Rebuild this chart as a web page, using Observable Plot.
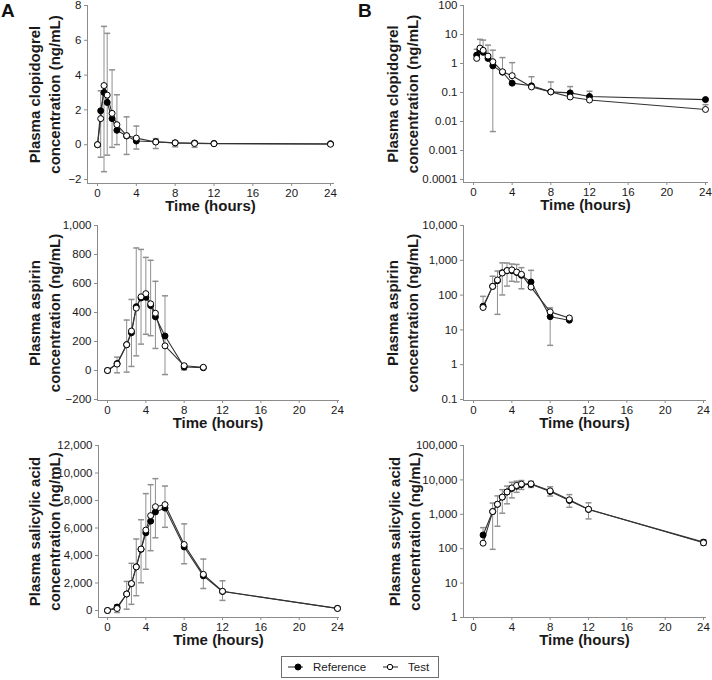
<!DOCTYPE html>
<html><head><meta charset="utf-8">
<script src="https://cdn.jsdelivr.net/npm/d3@7"></script>
<script src="https://cdn.jsdelivr.net/npm/@observablehq/plot@0.6"></script>
<style>
body{margin:0;background:#fff;font-family:"Liberation Sans",Arial,sans-serif;}
#wrap{position:relative;width:712px;height:680px;overflow:hidden;}
#wrap svg{position:absolute;overflow:visible;}
.letter{position:absolute;font-weight:bold;font-size:19px;line-height:1;color:#111;}
</style></head><body><div id="wrap"></div>
<script>
// ---------- data ----------
const xTicks = [0, 4, 8, 12, 16, 20, 24];
const timeLabel = "Time (hours)";
const seriesNames = ["Reference", "Test"];

// Clopidogrel
const clopTime = [0, 0.33, 0.67, 1, 1.5, 2, 3, 4, 6, 8, 10, 12, 24];
const clopRef  = [0, 1.95, 3.0, 2.43, 1.5, 0.83, 0.5, 0.21, 0.17, 0.105, 0.097, 0.073, 0.057];
const clopTest = [0, 1.5, 3.4, 2.85, 1.8, 1.15, 0.52, 0.38, 0.155, 0.105, 0.07, 0.055, 0.026];
const clopBarTime = [0.33, 0.67, 1, 1.5, 2, 3, 4, 6, 8, 10, 12, 24];
const clopBarLo   = [-0.72, -1.55, -0.6, -0.15, 0.0045, -0.56, -0.25, -0.22, -0.12, -0.15, -0.01, -0.01];
const clopBarHi   = [3.1, 6.8, 6.4, 4.3, 2.87, 1.6, 1.07, 0.35, 0.23, 0.16, 0.11, 0.038];
const clopLinTicks = [-2, 0, 2, 4, 6, 8];
const clopLogTicks = [0.0001, 0.001, 0.01, 0.1, 1, 10, 100];
const clopLabel = "Plasma clopidogrel\nconcentration (ng/mL)";

// Aspirin
const aspTime = [0, 1, 2, 2.5, 3, 3.5, 4, 4.5, 5, 6, 8, 10];
const aspRef  = [0, 48, 178, 260, 440, 500, 505, 448, 370, 238, 24, 19];
const aspTest = [0, 44, 178, 272, 430, 508, 530, 460, 395, 170, 33, 22];
const aspBarTime = [1, 2, 2.5, 3, 3.5, 4, 4.5, 5, 6, 8];
const aspBarLo   = [-16, -11, 28, 101, 182, 250, 240, 152, -28, 3.6];
const aspBarHi   = [92, 348, 490, 845, 835, 780, 760, 615, 515, 43];
const aspLinTicks = [-200, 0, 200, 400, 600, 800, 1000];
const aspLogTicks = [0.1, 1, 10, 100, 1000, 10000];
const aspLabel = "Plasma aspirin\nconcentration (ng/mL)";

// Salicylic acid
const salTime = [0, 1, 2, 2.5, 3, 3.5, 4, 4.5, 5, 6, 8, 10, 12, 24];
const salRef  = [0, 250, 1200, 1950, 3170, 4450, 5650, 6500, 7170, 7450, 4620, 2520, 1380, 155];
const salTest = [0, 145, 1200, 1960, 3170, 4470, 5850, 6900, 7550, 7700, 4800, 2630, 1400, 148];
const salBarTime = [1, 2, 2.5, 3, 3.5, 4, 4.5, 5, 6, 8, 10, 12, 24];
const salBarLo   = [-145, 96, 450, 1075, 2020, 3000, 4350, 5290, 6050, 3400, 1600, 735, 126];
const salBarHi   = [410, 2115, 3430, 5200, 6600, 8500, 9150, 9590, 9050, 6300, 3740, 2160, 183];
const salLinTicks = [0, 2000, 4000, 6000, 8000, 10000, 12000];
const salLogTicks = [1, 10, 100, 1000, 10000, 100000];
const salLabel = "Plasma salicylic acid\nconcentration (ng/mL)";

// ---------- drawing ----------
const wrap = document.getElementById("wrap");
const axisColor = "#8c8c8c", barColor = "#8f8f8f", lineColor = "#333", textColor = "#1a1a1a";
const capSymbol = {draw(ctx, size) { const w = Math.sqrt(size / Math.PI); ctx.moveTo(-w, 0); ctx.lineTo(w, 0); }};

function panel(o) {
  const keep = v => !o.log || v > 0;
  const refD = o.t.map((x, i) => ({x, y: o.ref[i]})).filter(d => keep(d.y));
  const testD = o.t.map((x, i) => ({x, y: o.test[i]})).filter(d => keep(d.y));
  const bars = o.barT.map((x, i) => {
    const j = o.t.indexOf(x);
    const base = Math.min(o.ref[j], o.test[j]);
    const hasLo = keep(o.barLo[i]);
    return {x, lo: hasLo ? o.barLo[i] : base, hi: o.barHi[i], hasLo};
  });
  const fmt = o.log ? d3.format(",~g") : d3.format(",");
  const height = o.frameBottom + 45;
  const svg = Plot.plot({
    width: o.width, height,
    marginLeft: o.marginLeft, marginRight: o.marginRight,
    marginTop: o.yRange[1], marginBottom: height - o.frameBottom,
    x: {domain: [0, 24], range: o.xRange},
    y: {type: o.log ? "log" : "linear", domain: o.yDomain, range: o.yRange},
    style: {fontFamily: '"Liberation Sans", Arial, sans-serif', fontSize: "11.5px", color: textColor, background: "transparent", overflow: "visible"},
    marks: [
      Plot.frame({anchor: "left", stroke: axisColor}),
      Plot.frame({anchor: "bottom", stroke: axisColor}),
      Plot.axisX({ticks: xTicks, tickSize: 3, tickPadding: 2, stroke: axisColor, fill: textColor, label: null, tickFormat: d3.format("d")}),
      Plot.axisY({ticks: o.yTicks, tickSize: 3, tickPadding: 3, stroke: axisColor, fill: textColor, label: null, tickFormat: fmt}),
      Plot.ruleX(bars, {x: "x", y1: "lo", y2: "hi", stroke: barColor, strokeWidth: 1}),
      Plot.dot(bars, {x: "x", y: "hi", symbol: capSymbol, r: 3, stroke: barColor, fill: "none"}),
      Plot.dot(bars.filter(d => d.hasLo), {x: "x", y: "lo", symbol: capSymbol, r: 3, stroke: barColor, fill: "none"}),
      Plot.line(refD, {x: "x", y: "y", stroke: lineColor, strokeWidth: 1.1}),
      Plot.line(testD, {x: "x", y: "y", stroke: lineColor, strokeWidth: 1.1}),
      Plot.dot(refD, {x: "x", y: "y", r: 3, fill: "#000", stroke: "#000", strokeWidth: 1}),
      Plot.dot(testD, {x: "x", y: "y", r: 3, fill: "#fff", stroke: "#000", strokeWidth: 1}),
      Plot.text([o.ylabel], {text: d => d, frameAnchor: "left", textAnchor: "middle", lineAnchor: "middle", rotate: -90, dx: o.labelDx, fontSize: 15, fontWeight: "bold", lineHeight: 1.33, fill: textColor}),
      Plot.text([timeLabel], {text: d => d, frameAnchor: "bottom", lineAnchor: "middle", dy: 23, fontSize: 15, fontWeight: "bold", fill: textColor})
    ]
  });
  svg.style.left = o.left + "px";
  svg.style.top = o.top + "px";
  wrap.appendChild(svg);
}

panel({left: 0, top: 0, width: 356, marginLeft: 87, marginRight: 23, xRange: [97, 330], yRange: [179, 5], frameBottom: 183,
  yDomain: [-2, 8], yTicks: clopLinTicks, log: false, t: clopTime, ref: clopRef, test: clopTest,
  barT: clopBarTime, barLo: clopBarLo, barHi: clopBarHi, ylabel: clopLabel, labelDx: -44});
panel({left: 356, top: 0, width: 356, marginLeft: 107, marginRight: 5, xRange: [117, 349], yRange: [179, 5], frameBottom: 182,
  yDomain: [0.0001, 100], yTicks: clopLogTicks, log: true, t: clopTime, ref: clopRef, test: clopTest,
  barT: clopBarTime, barLo: clopBarLo, barHi: clopBarHi, ylabel: clopLabel, labelDx: -62});
panel({left: 0, top: 200, width: 356, marginLeft: 97, marginRight: 18, xRange: [107, 337], yRange: [199, 25], frameBottom: 200,
  yDomain: [-200, 1000], yTicks: aspLinTicks, log: false, t: aspTime, ref: aspRef, test: aspTest,
  barT: aspBarTime, barLo: aspBarLo, barHi: aspBarHi, ylabel: aspLabel, labelDx: -54});
panel({left: 356, top: 200, width: 356, marginLeft: 107, marginRight: 7, xRange: [117, 347], yRange: [199, 25], frameBottom: 200,
  yDomain: [0.1, 10000], yTicks: aspLogTicks, log: true, t: aspTime, ref: aspRef, test: aspTest,
  barT: aspBarTime, barLo: aspBarLo, barHi: aspBarHi, ylabel: aspLabel, labelDx: -62});
panel({left: 0, top: 410, width: 356, marginLeft: 98, marginRight: 18, xRange: [107, 337], yRange: [200, 35], frameBottom: 207,
  yDomain: [0, 12000], yTicks: salLinTicks, log: false, t: salTime, ref: salRef, test: salTest,
  barT: salBarTime, barLo: salBarLo, barHi: salBarHi, ylabel: salLabel, labelDx: -55});
panel({left: 356, top: 410, width: 356, marginLeft: 107, marginRight: 7, xRange: [117, 347], yRange: [207, 35], frameBottom: 207,
  yDomain: [1, 100000], yTicks: salLogTicks, log: true, t: salTime, ref: salRef, test: salTest,
  barT: salBarTime, barLo: salBarLo, barHi: salBarHi, ylabel: salLabel, labelDx: -60});

// panel letters
for (const [txt, x] of [["A", 1], ["B", 358]]) {
  const d = document.createElement("div");
  d.className = "letter"; d.textContent = txt;
  d.style.left = x + "px"; d.style.top = "1px";
  wrap.appendChild(d);
}

// legend
const ns = "http://www.w3.org/2000/svg";
const lg = document.createElementNS(ns, "svg");
lg.setAttribute("width", 160); lg.setAttribute("height", 24);
lg.style.left = "280px"; lg.style.top = "655px";
lg.innerHTML = `
  <rect x="1.5" y="1.5" width="157" height="21" fill="#fff" stroke="#6e6e6e" stroke-width="1"/>
  <line x1="8" x2="23" y1="12" y2="12" stroke="${lineColor}" stroke-width="1.1"/>
  <circle cx="18" cy="12" r="3" fill="#000" stroke="#000"/>
  <text x="33" y="12" dy="0.35em" font-size="11.5" fill="${textColor}" font-family="Liberation Sans, Arial, sans-serif">${seriesNames[0]}</text>
  <line x1="103" x2="118" y1="12" y2="12" stroke="${lineColor}" stroke-width="1.1"/>
  <circle cx="110" cy="12" r="2.7" fill="#fff" stroke="#000"/>
  <text x="128" y="12" dy="0.35em" font-size="11.5" fill="${textColor}" font-family="Liberation Sans, Arial, sans-serif">${seriesNames[1]}</text>`;
wrap.appendChild(lg);
</script>
</body></html>
